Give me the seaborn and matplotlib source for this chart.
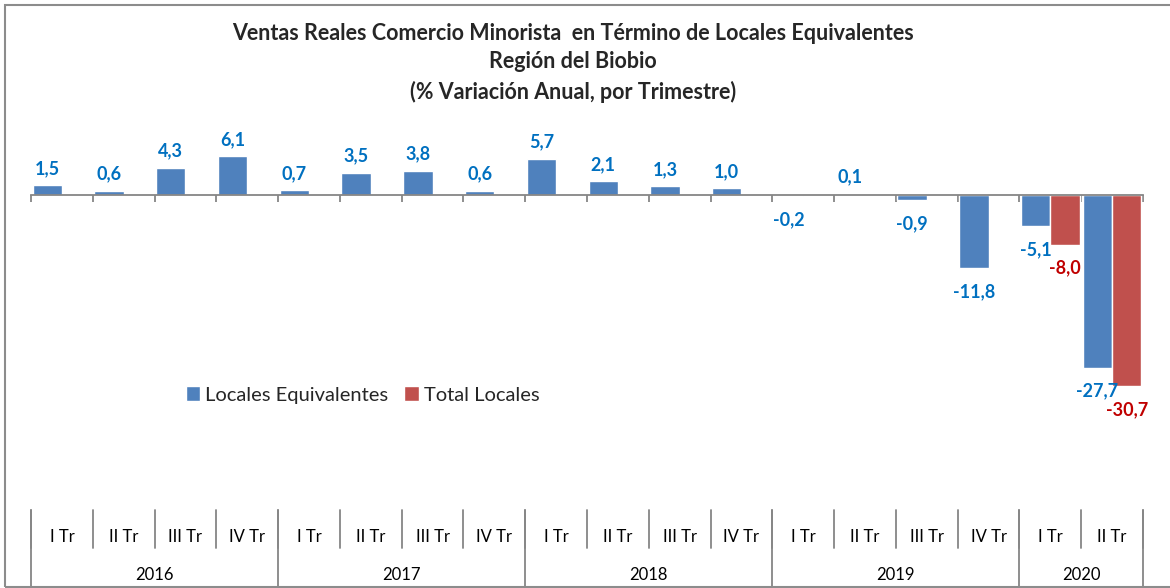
import numpy as np
import pandas as pd
import matplotlib.pyplot as plt
import matplotlib.transforms as mtrans
from matplotlib.patches import Rectangle
import seaborn as sns

# data
quarters = ['I Tr', 'II Tr', 'III Tr', 'IV Tr'] * 4 + ['I Tr', 'II Tr']
years = ['2016', '2017', '2018', '2019', '2020']
year_span = [4, 4, 4, 4, 2]
locales_equiv = [1.5, 0.6, 4.3, 6.1, 0.7, 3.5, 3.8, 0.6, 5.7, 2.1, 1.3, 1.0,
                 -0.2, 0.1, -0.9, -11.8, -5.1, -27.7]
total_locales = [np.nan] * 16 + [-8.0, -30.7]
series = ['Locales Equivalentes', 'Total Locales']

n = len(quarters)
df = pd.DataFrame({
    'pos': list(range(n)) * 2,
    'valor': locales_equiv + total_locales,
    'serie': [series[0]] * n + [series[1]] * n,
})

sns.set_style('white')
plt.rcParams['font.family'] = ['Lato', 'DejaVu Sans']

fig = plt.figure(figsize=(11.7, 5.88), dpi=100)
ax = fig.add_axes([31 / 1170, 1 - 507 / 588, (1143 - 31) / 1170, (507 - 132) / 588])

colors = {series[0]: '#4F81BD', series[1]: '#C0504D'}
sns.barplot(data=df, x='pos', y='valor', hue='serie', hue_order=series,
            palette=colors, saturation=1, width=0.95, gap=0, ax=ax,
            legend=True, native_scale=True)

ax.set_xlim(-0.5, n - 0.5)
ax.set_ylim(-50, 10)
ax.set_xlabel('')
ax.set_ylabel('')
ax.set_yticks([])
for s in ['top', 'right', 'left']:
    ax.spines[s].set_visible(False)
ax.spines['bottom'].set_position(('data', 0))
ax.spines['bottom'].set_color('#868686')
ax.spines['bottom'].set_linewidth(1.3)
ax.set_xticks(np.arange(-0.5, n, 1.0))
ax.set_xticklabels([])
ax.tick_params(axis='x', direction='out', length=5, width=1.3, color='#868686', bottom=True)

# data labels
label_col = {series[0]: '#0070C0', series[1]: '#C00000'}
for cont, s in zip(ax.containers, series):
    for bar in cont:
        h = bar.get_height()
        if np.isnan(h):
            continue
        x = bar.get_x() + bar.get_width() / 2
        off = 12 if h >= 0 else -17
        ax.annotate(f'{h:.1f}'.replace('.', ','), (x, h), xytext=(0, off),
                    textcoords='offset points', ha='center', va='center',
                    fontsize=13, fontweight='bold', color=label_col[s])

# multi-level category axis
tr = mtrans.blended_transform_factory(ax.transData, fig.transFigure)
y_top = 1 - 510 / 588
y_mid = 1 - 548 / 588
y_bot = 0.0
for i in range(n + 1):
    ax.plot([i - 0.5, i - 0.5], [y_top, y_mid], transform=tr, color='#868686',
            lw=1.3, clip_on=False)
for i, q in enumerate(quarters):
    ax.text(i, 1 - 537 / 588, q, transform=tr, ha='center', va='center',
            fontsize=12, color='black')
start = 0
bounds = [0]
for y, sp in zip(years, year_span):
    ax.text(start + sp / 2 - 0.5, 1 - 575 / 588, y, transform=tr, ha='center',
            va='center', fontsize=12, color='black')
    start += sp
    bounds.append(start)
for b in bounds:
    ax.plot([b - 0.5, b - 0.5], [y_top, y_bot], transform=tr, color='#868686',
            lw=1.3, clip_on=False)

# legend
ax.legend(loc='center left', bbox_to_anchor=(168 / 1170, 1 - 395 / 588),
          bbox_transform=fig.transFigure, ncol=2, frameon=False, fontsize=14.5,
          handlelength=0.7, handleheight=0.7, handletextpad=0.25,
          columnspacing=0.8, title=None)

# title
title_lines = ['Ventas Reales Comercio Minorista  en Término de Locales Equivalentes',
               'Región del Biobio',
               '(% Variación Anual, por Trimestre)']
for line, ypix in zip(title_lines, [33, 62, 92]):
    fig.text(0.4897, 1 - ypix / 588, line, ha='center', va='center',
             fontsize=15.5, fontweight='bold')

# chart frame
fig.patches.append(Rectangle((5 / 1170, 1 / 588), 1.2, 1 - 6 / 588, transform=fig.transFigure,
                             fill=False, edgecolor='#8c8c8c', lw=1.5))

fig.savefig('out.png', dpi=100)
